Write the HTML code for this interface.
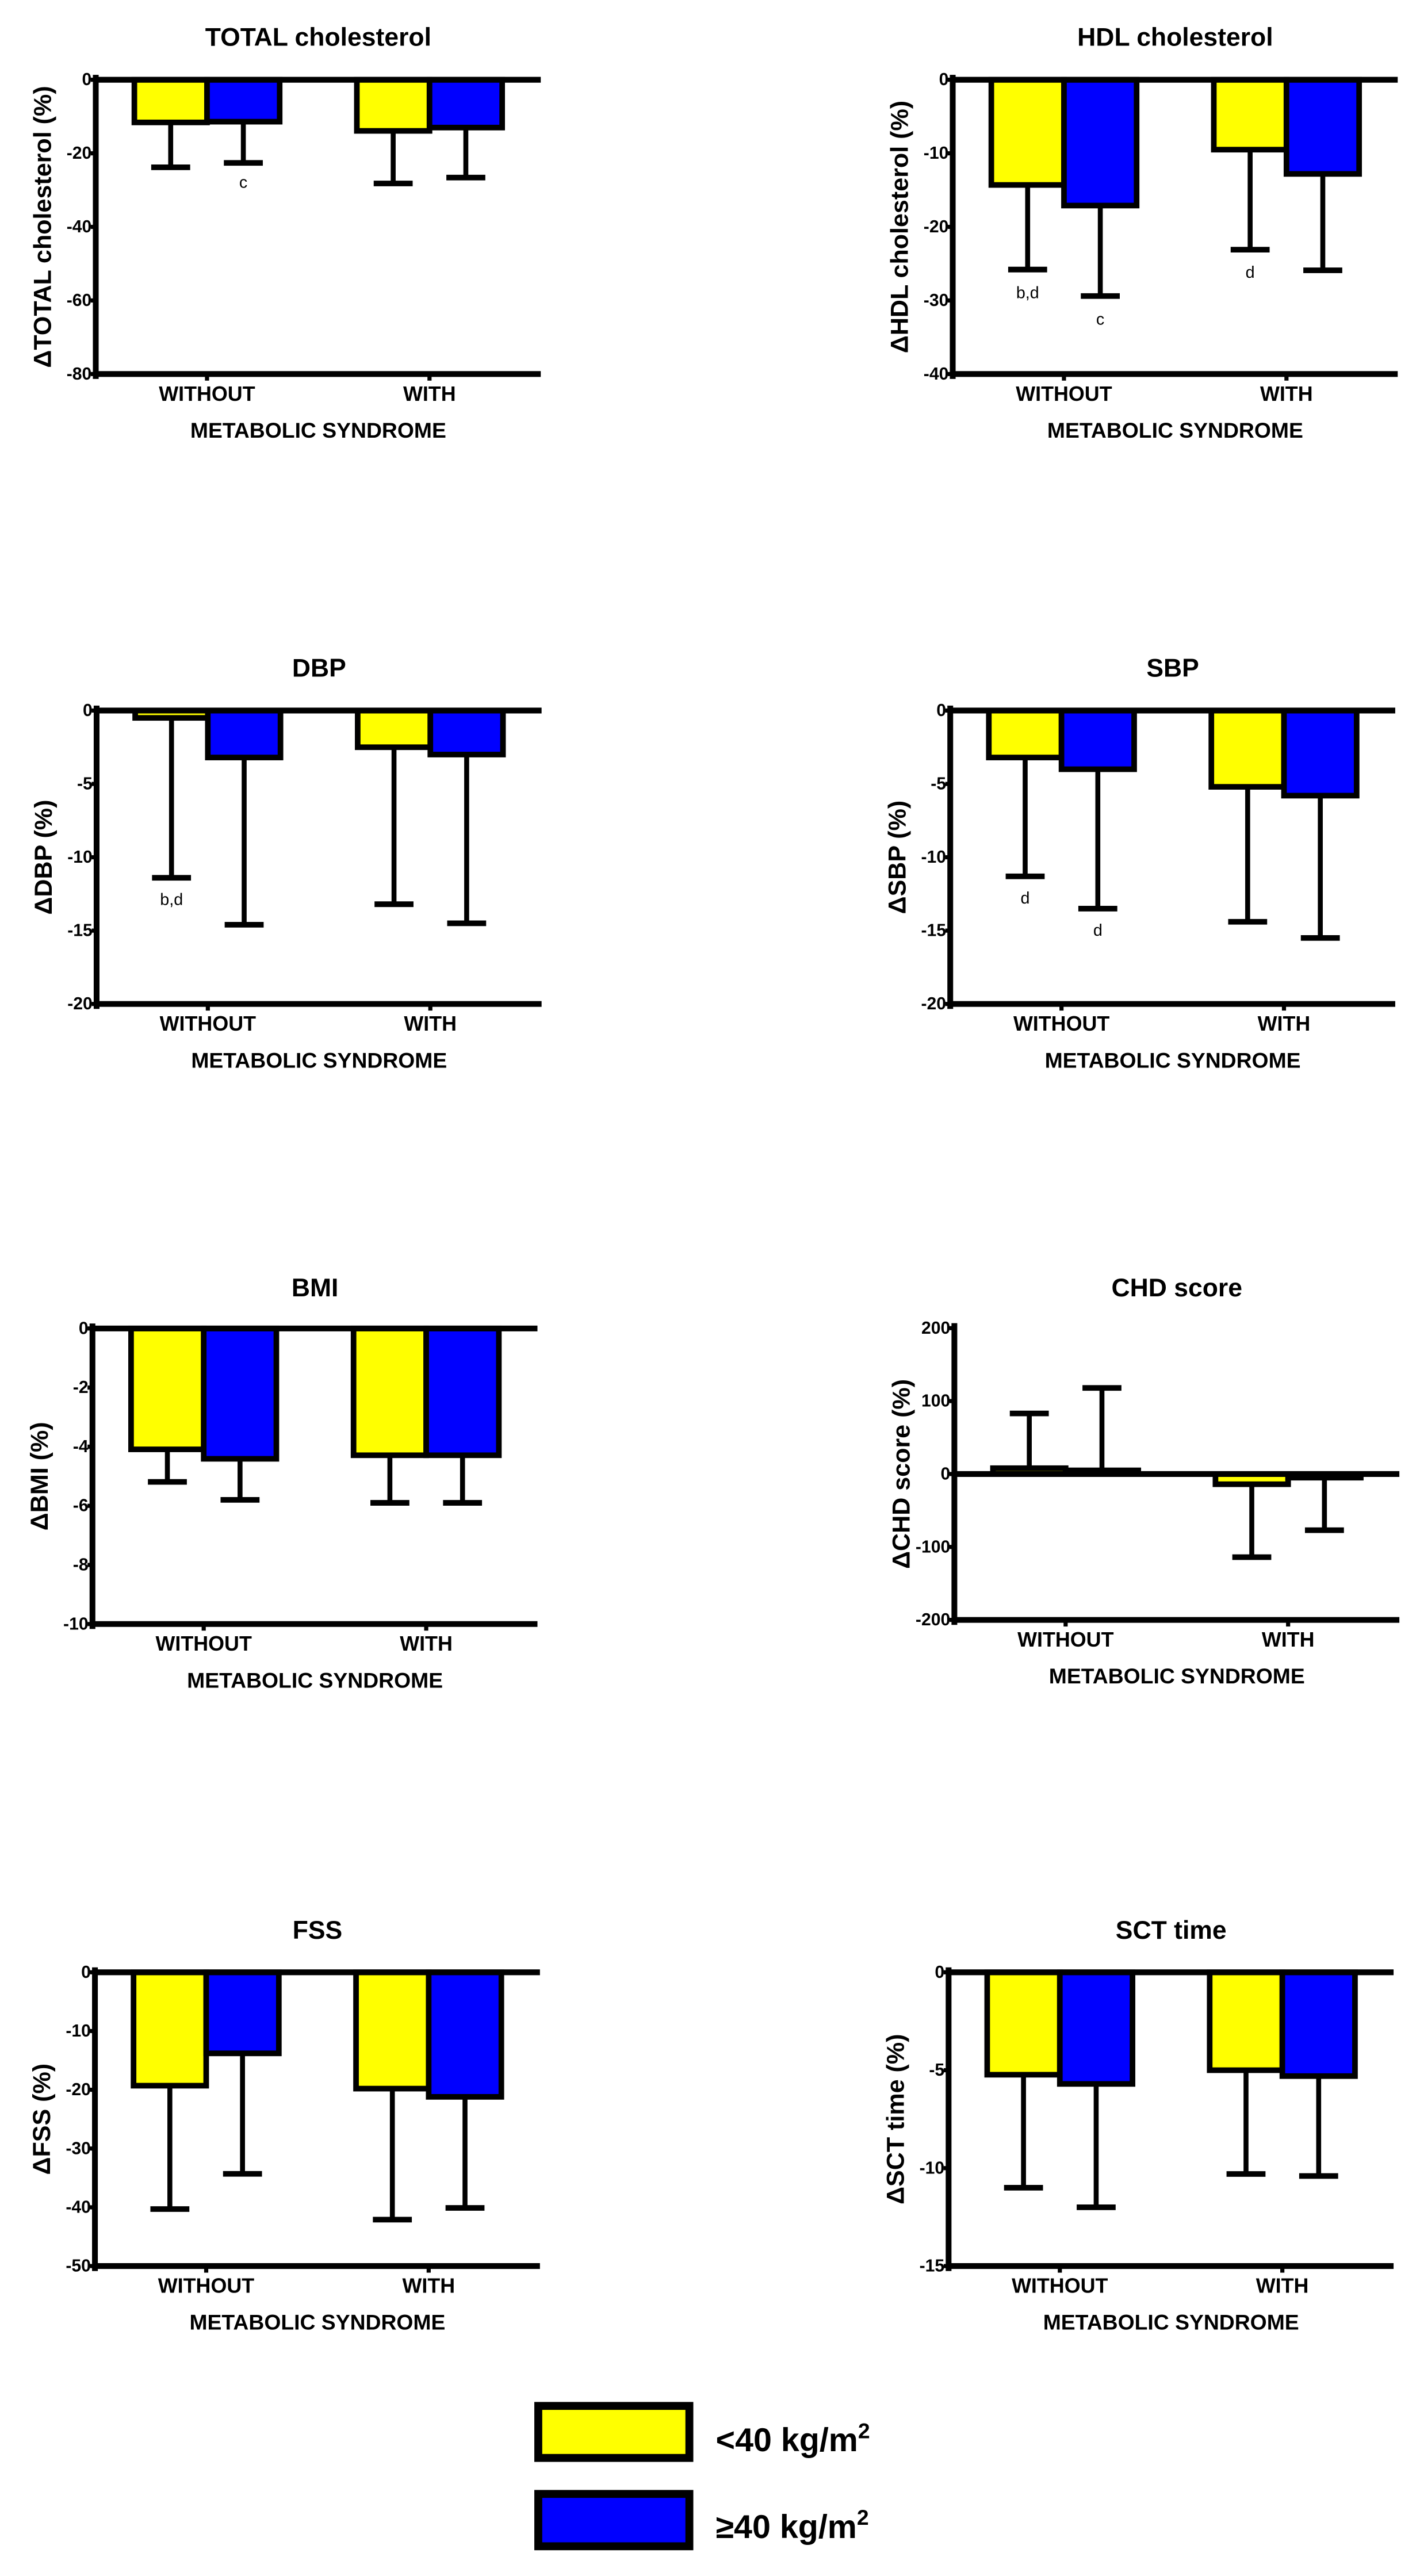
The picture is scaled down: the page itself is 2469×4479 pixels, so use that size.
<!DOCTYPE html>
<html><head><meta charset="utf-8"><title>Metabolic syndrome charts</title>
<style>
html,body{margin:0;padding:0;background:#fff;}
svg{display:block;}
text{font-family:"Liberation Sans",Arial,sans-serif;fill:#000;}
</style></head>
<body>
<svg id="fig" xmlns="http://www.w3.org/2000/svg" width="2469" height="4479" viewBox="0 0 860 1560" preserveAspectRatio="none">
<rect x="0" y="0" width="860" height="1560" fill="#fff"/>
<g id="legend">
  <g>
    <rect x="326" y="1457" width="91.5" height="31.5" fill="#ffff00" stroke="#000" stroke-width="4.8"/>
    <text x="433.5" y="1484.5" font-size="20" font-weight="bold">&lt;40 kg/m<tspan font-size="13" dy="-8">2</tspan></text>
  </g>
  <g>
    <rect x="326" y="1510.3" width="91.5" height="31.7" fill="#0000ff" stroke="#000" stroke-width="4.8"/>
    <text x="433.5" y="1537" font-size="20" font-weight="bold">≥40 kg/m<tspan font-size="13" dy="-8">2</tspan></text>
  </g>
</g>
</svg>
<script>
// ---- data ----
const panelTitles = ['TOTAL cholesterol','HDL cholesterol','DBP','SBP','BMI','CHD score','FSS','SCT time'];
const yTitles = ['\u0394TOTAL cholesterol (%)','\u0394HDL cholesterol (%)','\u0394DBP (%)','\u0394SBP (%)','\u0394BMI (%)','\u0394CHD score (%)','\u0394FSS (%)','\u0394SCT time (%)'];
const categories = ['WITHOUT','WITH'];
const xAxisTitle = 'METABOLIC SYNDROME';
const yMaxs = [0,0,0,0,0,200,0,0];
const yMins = [-80,-40,-20,-20,-10,-200,-50,-15];
const yTicks = [
  [0,-20,-40,-60,-80],
  [0,-10,-20,-30,-40],
  [0,-5,-10,-15,-20],
  [0,-5,-10,-15,-20],
  [0,-2,-4,-6,-8,-10],
  [200,100,0,-100,-200],
  [0,-10,-20,-30,-40,-50],
  [0,-5,-10,-15]
];
const meanLow = [[-11.6,-13.9],[-14.3,-9.5],[-0.5,-2.5],[-3.2,-5.2],[-4.09,-4.29],[8,-14],[-19.3,-19.8],[-5.23,-5.0]];
const meanHigh = [[-11.4,-13.0],[-17.1,-12.8],[-3.2,-3.0],[-4.0,-5.8],[-4.41,-4.29],[5,-5],[-13.8,-21.2],[-5.7,-5.3]];
const errEndLow = [[-23.8,-28.2],[-25.8,-23.1],[-11.4,-13.2],[-11.3,-14.4],[-5.19,-5.9],[83,-114],[-40.3,-42.1],[-11.0,-10.3]];
const errEndHigh = [[-22.6,-26.6],[-29.4,-25.9],[-14.6,-14.5],[-13.5,-15.5],[-5.8,-5.9],[118,-77],[-34.3,-40.1],[-12.0,-10.4]];
// annotations: [panel, category, series(0 low,1 high), value position, text]
const notePanel = [0,1,1,1,2,3,3];
const noteCat = [0,0,0,1,0,0,0];
const noteSeries = [1,0,1,0,0,0,1];
const noteValue = [-28,-29,-32.6,-26.2,-12.9,-12.8,-15.0];
const noteText = ['c','b,d','c','d','b,d','d','d'];

// ---- layout (not data) ----
const axisXs = [58,577,58.5,575.5,56,578,57.5,574.5];
const plotTops = [48.3,48.3,430.3,430.3,804.5,804.3,1194.4,1194.4];
const plotBottoms = [226.5,226.5,608,608,983.5,981,1372.3,1372.3];
const titleYs = [22.6,22.6,404.7,404.7,780,780,1169,1169];
const plotW = 269.5;
const SW = 3.4;
const NS = 'http://www.w3.org/2000/svg';
const svg = document.getElementById('fig');
const legend = document.getElementById('legend');

function mk(tag, attrs, parent){
  const e = document.createElementNS(NS, tag);
  for (const k in attrs) e.setAttribute(k, attrs[k]);
  parent.appendChild(e);
  return e;
}
function slug(s){return s.toLowerCase().replace(/[^a-z0-9]+/g,'-').replace(/^-|-$/g,'');}

for (let p = 0; p < panelTitles.length; p++) {
  const ax = axisXs[p], top = plotTops[p], bot = plotBottoms[p];
  const yMax = yMaxs[p], yMin = yMins[p];
  const y = v => top + (yMax - v) / (yMax - yMin) * (bot - top);
  const xCat = i => ax + plotW * (0.25 + 0.5 * i);
  const name = slug(panelTitles[p]);
  const g = mk('g', {}, svg);
  
  
  svg.insertBefore(g, legend);

  const t = mk('text', {x: ax + plotW/2, y: titleYs[p], 'font-size': 15.5, 'font-weight': 'bold', 'text-anchor': 'middle', 'dominant-baseline': 'central'}, g);
  t.textContent = panelTitles[p];
  
  

  const yt = mk('text', {x: ax - 32, y: (top+bot)/2, 'font-size': 15, 'font-weight': 'bold', 'text-anchor': 'middle', 'dominant-baseline': 'central', transform: 'rotate(-90 ' + (ax-32) + ' ' + ((top+bot)/2) + ')'}, g);
  yt.textContent = yTitles[p];
  
  

  // bars
  const means = [meanLow[p], meanHigh[p]];
  const errs = [errEndLow[p], errEndHigh[p]];
  const fills = ['#ffff00', '#0000ff'];
  const sname = ['low-bmi', 'high-bmi'];
  const bw = 44;
  for (let c = 0; c < categories.length; c++) {
    for (let s = 0; s < 2; s++) {
      const x0 = s === 0 ? xCat(c) - bw : xCat(c);
      const v = means[s][c], e = errs[s][c];
      const y0 = y(0), yv = y(v);
      const eb = mk('g', {}, g);
      
      
      const cx = x0 + bw/2;
      mk('line', {x1: cx, x2: cx, y1: yv, y2: y(e), stroke: '#000', 'stroke-width': 3}, eb);
      mk('line', {x1: cx - 11.8, x2: cx + 11.8, y1: y(e), y2: y(e), stroke: '#000', 'stroke-width': 3.4}, eb);
      const r = mk('rect', {x: x0, y: Math.min(y0, yv), width: bw, height: Math.max(Math.abs(yv - y0), 0.01), fill: fills[s], stroke: '#000', 'stroke-width': SW}, g);
      
      
    }
  }

  // axes
  const yAxis = mk('line', {x1: ax, x2: ax, y1: top - 3, y2: bot + 3, stroke: '#000', 'stroke-width': 3.5}, g);
  
  
  const zl = mk('line', {x1: ax, x2: ax + plotW, y1: y(0), y2: y(0), stroke: '#000', 'stroke-width': 3.5}, g);
  
  
  const bl = mk('line', {x1: ax, x2: ax + plotW, y1: bot, y2: bot, stroke: '#000', 'stroke-width': 3.5}, g);
  
  

  for (const tv of yTicks[p]) {
    mk('line', {x1: ax - 3, x2: ax, y1: y(tv), y2: y(tv), stroke: '#000', 'stroke-width': 2.5}, g);
    const tl = mk('text', {x: ax - 2.5, y: y(tv), 'font-size': 10.5, 'font-weight': 'bold', 'text-anchor': 'end', 'dominant-baseline': 'central'}, g);
    tl.textContent = String(tv);
    
    
  }
  for (let c = 0; c < categories.length; c++) {
    mk('line', {x1: xCat(c), x2: xCat(c), y1: bot, y2: bot + 4, stroke: '#000', 'stroke-width': 2.5}, g);
    const cl = mk('text', {x: xCat(c), y: bot + 12, 'font-size': 12.5, 'font-weight': 'bold', 'text-anchor': 'middle', 'dominant-baseline': 'central'}, g);
    cl.textContent = categories[c];
    
    
  }
  const xt = mk('text', {x: ax + plotW/2, y: bot + 34, 'font-size': 13, 'font-weight': 'bold', 'text-anchor': 'middle', 'dominant-baseline': 'central'}, g);
  xt.textContent = xAxisTitle;
  
  

  for (let n = 0; n < notePanel.length; n++) {
    if (notePanel[n] !== p) continue;
    const cx = notePanel[n] >= 0 ? (noteSeries[n] === 0 ? xCat(noteCat[n]) - 22 : xCat(noteCat[n]) + 22) : 0;
    const nt = mk('text', {x: cx, y: y(noteValue[n]), 'font-size': 10, 'text-anchor': 'middle', 'dominant-baseline': 'central'}, g);
    nt.textContent = noteText[n];
    
    
  }
}
</script>
</body></html>
